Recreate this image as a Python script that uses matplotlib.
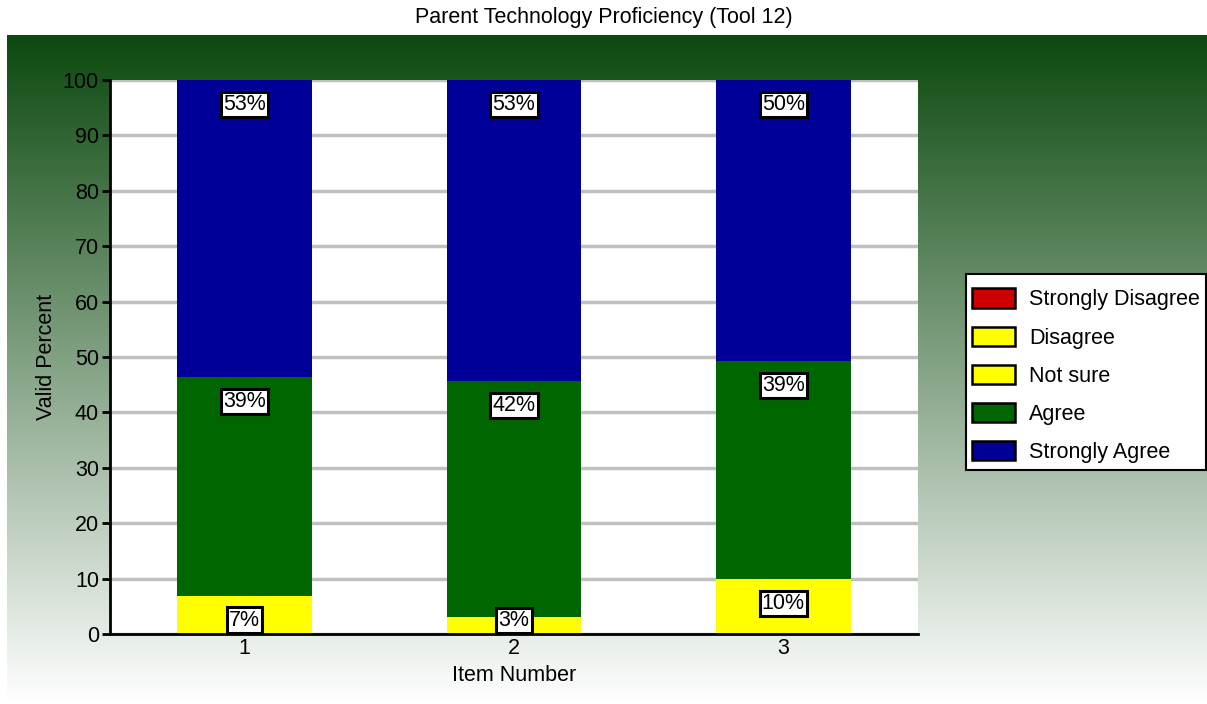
import numpy as np
import matplotlib
matplotlib.use("Agg")
import matplotlib.pyplot as plt
from matplotlib.patches import Patch, Rectangle

plt.rcParams['font.family'] = ['Liberation Sans', 'DejaVu Sans']

title = "Parent Technology Proficiency (Tool 12)"
items = [1, 2, 3]
categories = ["Strongly Disagree", "Disagree", "Not sure", "Agree", "Strongly Agree"]
colors = ["#cc0000", "#ffff00", "#ffff00", "#006600", "#000099"]
strongly_disagree = [0.0, 0.0, 0.0]
disagree = [0.0, 0.0, 0.0]
not_sure = [6.9, 3.1, 9.9]
agree = [39.5, 42.6, 39.4]
strongly_agree = [53.6, 54.3, 50.7]
not_sure_labels = ["7%", "3%", "10%"]
agree_labels = ["39%", "42%", "39%"]
strongly_agree_labels = ["53%", "53%", "50%"]

FS = 15.5
W, H = 1207, 704
fig = plt.figure(figsize=(W / 100, H / 100), dpi=100, facecolor="white")

# gradient background panel
bg = fig.add_axes([7 / W, 0, 1 - 7 / W, (H - 35) / H], zorder=0)
top = np.array([12, 73, 15]) / 255
bot = np.array([255, 255, 255]) / 255
t = np.linspace(0, 1, 400)[:, None]
grad = (top[None, :] * (1 - t) + bot[None, :] * t)[:, None, :]
bg.imshow(grad, aspect="auto", extent=[0, 1, 0, 1])
bg.set_axis_off()

ax = fig.add_axes([110 / W, (H - 634) / H, 808 / W, 554 / H], zorder=1)
ax.set_facecolor("white")

series = [strongly_disagree, disagree, not_sure, agree, strongly_agree]
labels = [None, None, not_sure_labels, agree_labels, strongly_agree_labels]
bottom = np.zeros(len(items))
for vals, col, labs in zip(series, colors, labels):
    vals = np.array(vals)
    ax.bar(items, vals, bottom=bottom, width=0.5, color=col, zorder=3)
    tops = bottom + vals
    if labs is not None:
        for x, tp, lab in zip(items, tops, labs):
            y = max(tp - 4.4, 2.45)
            ax.text(x, y, lab, ha="center", va="center", fontsize=FS, zorder=5,
                    bbox=dict(boxstyle="square,pad=0.1", fc="white", ec="black", lw=2.2))
    bottom = tops

ax.set_xlim(0.5, 3.5)
ax.set_ylim(0, 100)
ax.set_yticks(range(0, 101, 10))
ax.set_xticks(items)
ax.yaxis.grid(True, color="#c0c0c0", lw=2.5, zorder=1)
ax.set_axisbelow(True)
for s in ["top", "right"]:
    ax.spines[s].set_visible(False)
for s in ["left", "bottom"]:
    ax.spines[s].set_linewidth(2)
    ax.spines[s].set_zorder(6)
ax.tick_params(axis="y", length=6, width=2, labelsize=FS, pad=2)
ax.tick_params(axis="x", length=0, labelsize=FS, pad=3)
ax.set_ylabel("Valid Percent", fontsize=FS, labelpad=4)
ax.set_xlabel("Item Number", fontsize=FS, labelpad=4)

fig.text(0.5, 1 - 18 / H, title, ha="center", va="center", fontsize=FS)

# legend frame
fig.add_artist(Rectangle((966 / W, 1 - 470 / H), 240 / W, 196 / H,
                         transform=fig.transFigure, facecolor="white",
                         edgecolor="black", lw=1.5, zorder=4))
handles = [Patch(facecolor=c, edgecolor="black", lw=1.8) for c in colors]
leg = fig.legend(handles, categories, loc="upper left",
                 bbox_to_anchor=(967 / W, 1 - 283 / H), fontsize=FS,
                 frameon=False,
                 handlelength=2.0, handleheight=1.0, labelspacing=0.75,
                 borderpad=0.25, handletextpad=0.65, borderaxespad=0)
leg.set_zorder(5)

fig.savefig("out.png", dpi=100, facecolor="white")
